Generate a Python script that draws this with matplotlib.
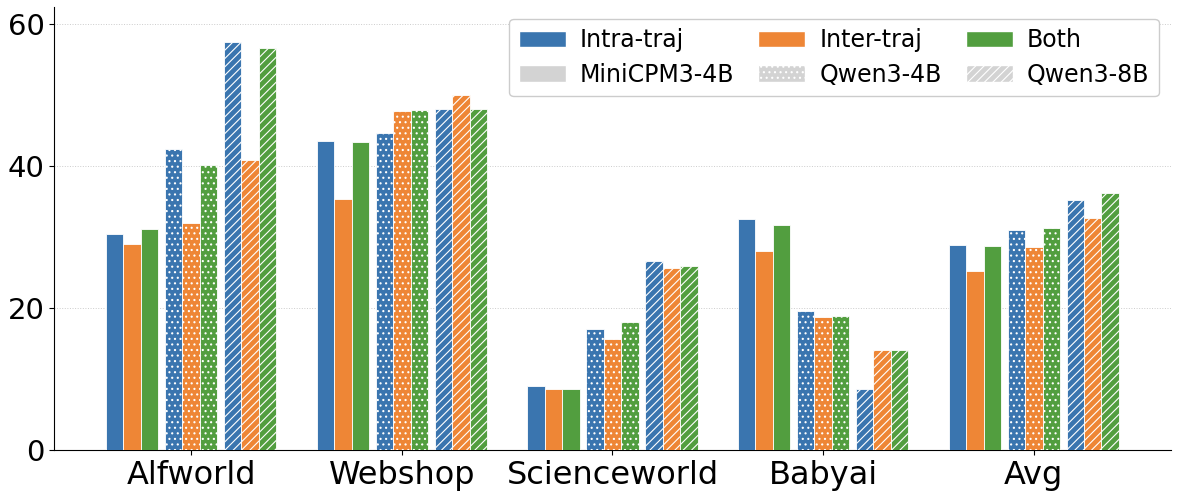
import numpy as np
import matplotlib
matplotlib.use('Agg')
from matplotlib import pyplot as plt
from matplotlib.patches import Patch

tasks = ['Alfworld', 'Webshop', 'Scienceworld', 'Babyai', 'Avg']
models = ['MiniCPM3-4B', 'Qwen3-4B', 'Qwen3-8B']
methods = ['Intra-traj', 'Inter-traj', 'Both']

# per model: [intra, inter, both], one value per task
minicpm_intra = [30.5, 43.6, 9.0, 32.6, 28.9]
minicpm_inter = [29.0, 35.4, 8.6, 28.0, 25.3]
minicpm_both = [31.2, 43.4, 8.6, 31.7, 28.8]

qwen4b_intra = [42.4, 44.6, 17.1, 19.6, 31.0]
qwen4b_inter = [32.0, 47.8, 15.7, 18.8, 28.6]
qwen4b_both = [40.2, 47.9, 18.1, 18.9, 31.3]

qwen8b_intra = [57.4, 48.1, 26.6, 8.6, 35.2]
qwen8b_inter = [40.9, 50.0, 25.6, 14.1, 32.7]
qwen8b_both = [56.6, 48.1, 26.0, 14.1, 36.2]

scores = [
    [minicpm_intra, minicpm_inter, minicpm_both],
    [qwen4b_intra, qwen4b_inter, qwen4b_both],
    [qwen8b_intra, qwen8b_inter, qwen8b_both],
]

colors = ['#3A75AF', '#EE8636', '#529E3F']
hatches = ['', '...', '////']

plt.rcParams['hatch.linewidth'] = 0.8

fig = plt.figure(figsize=(11.78, 4.96), dpi=100)
ax = fig.add_axes([0.046, 0.092, 0.9478, 0.894])

x = np.arange(len(tasks))
bar_w = 0.083
cluster_step = 0.28

for m, model in enumerate(models):
    for k, method in enumerate(methods):
        offset = (m - 1) * cluster_step + (k - 1) * bar_w
        ax.bar(x + offset, scores[m][k], width=bar_w, color=colors[k],
               edgecolor='white', linewidth=0.6, hatch=hatches[m], zorder=3)

ax.set_xticks(x)
ax.set_xticklabels(tasks, fontsize=23)
ax.set_yticks([0, 20, 40, 60])
ax.tick_params(axis='y', labelsize=21)
ax.set_xlim(-0.65, 4.65)
ax.set_ylim(0, 62.4)

ax.spines['top'].set_visible(False)
ax.spines['right'].set_visible(False)
ax.yaxis.grid(True, linestyle=':', linewidth=0.7, color='#cccccc', zorder=0)
ax.set_axisbelow(True)

handles = []
labels = []
for k, method in enumerate(methods):
    handles.append(Patch(facecolor=colors[k], edgecolor='white'))
    labels.append(method)
    handles.append(Patch(facecolor='#d3d3d3', edgecolor='white', hatch=hatches[k]))
    labels.append(models[k])

ax.legend(handles, labels, ncol=3, loc='upper right', fontsize=17,
          handlelength=2.0, handletextpad=0.6, columnspacing=1.0,
          labelspacing=0.45, framealpha=1)

plt.savefig('out.png', dpi=100)
plt.close()
